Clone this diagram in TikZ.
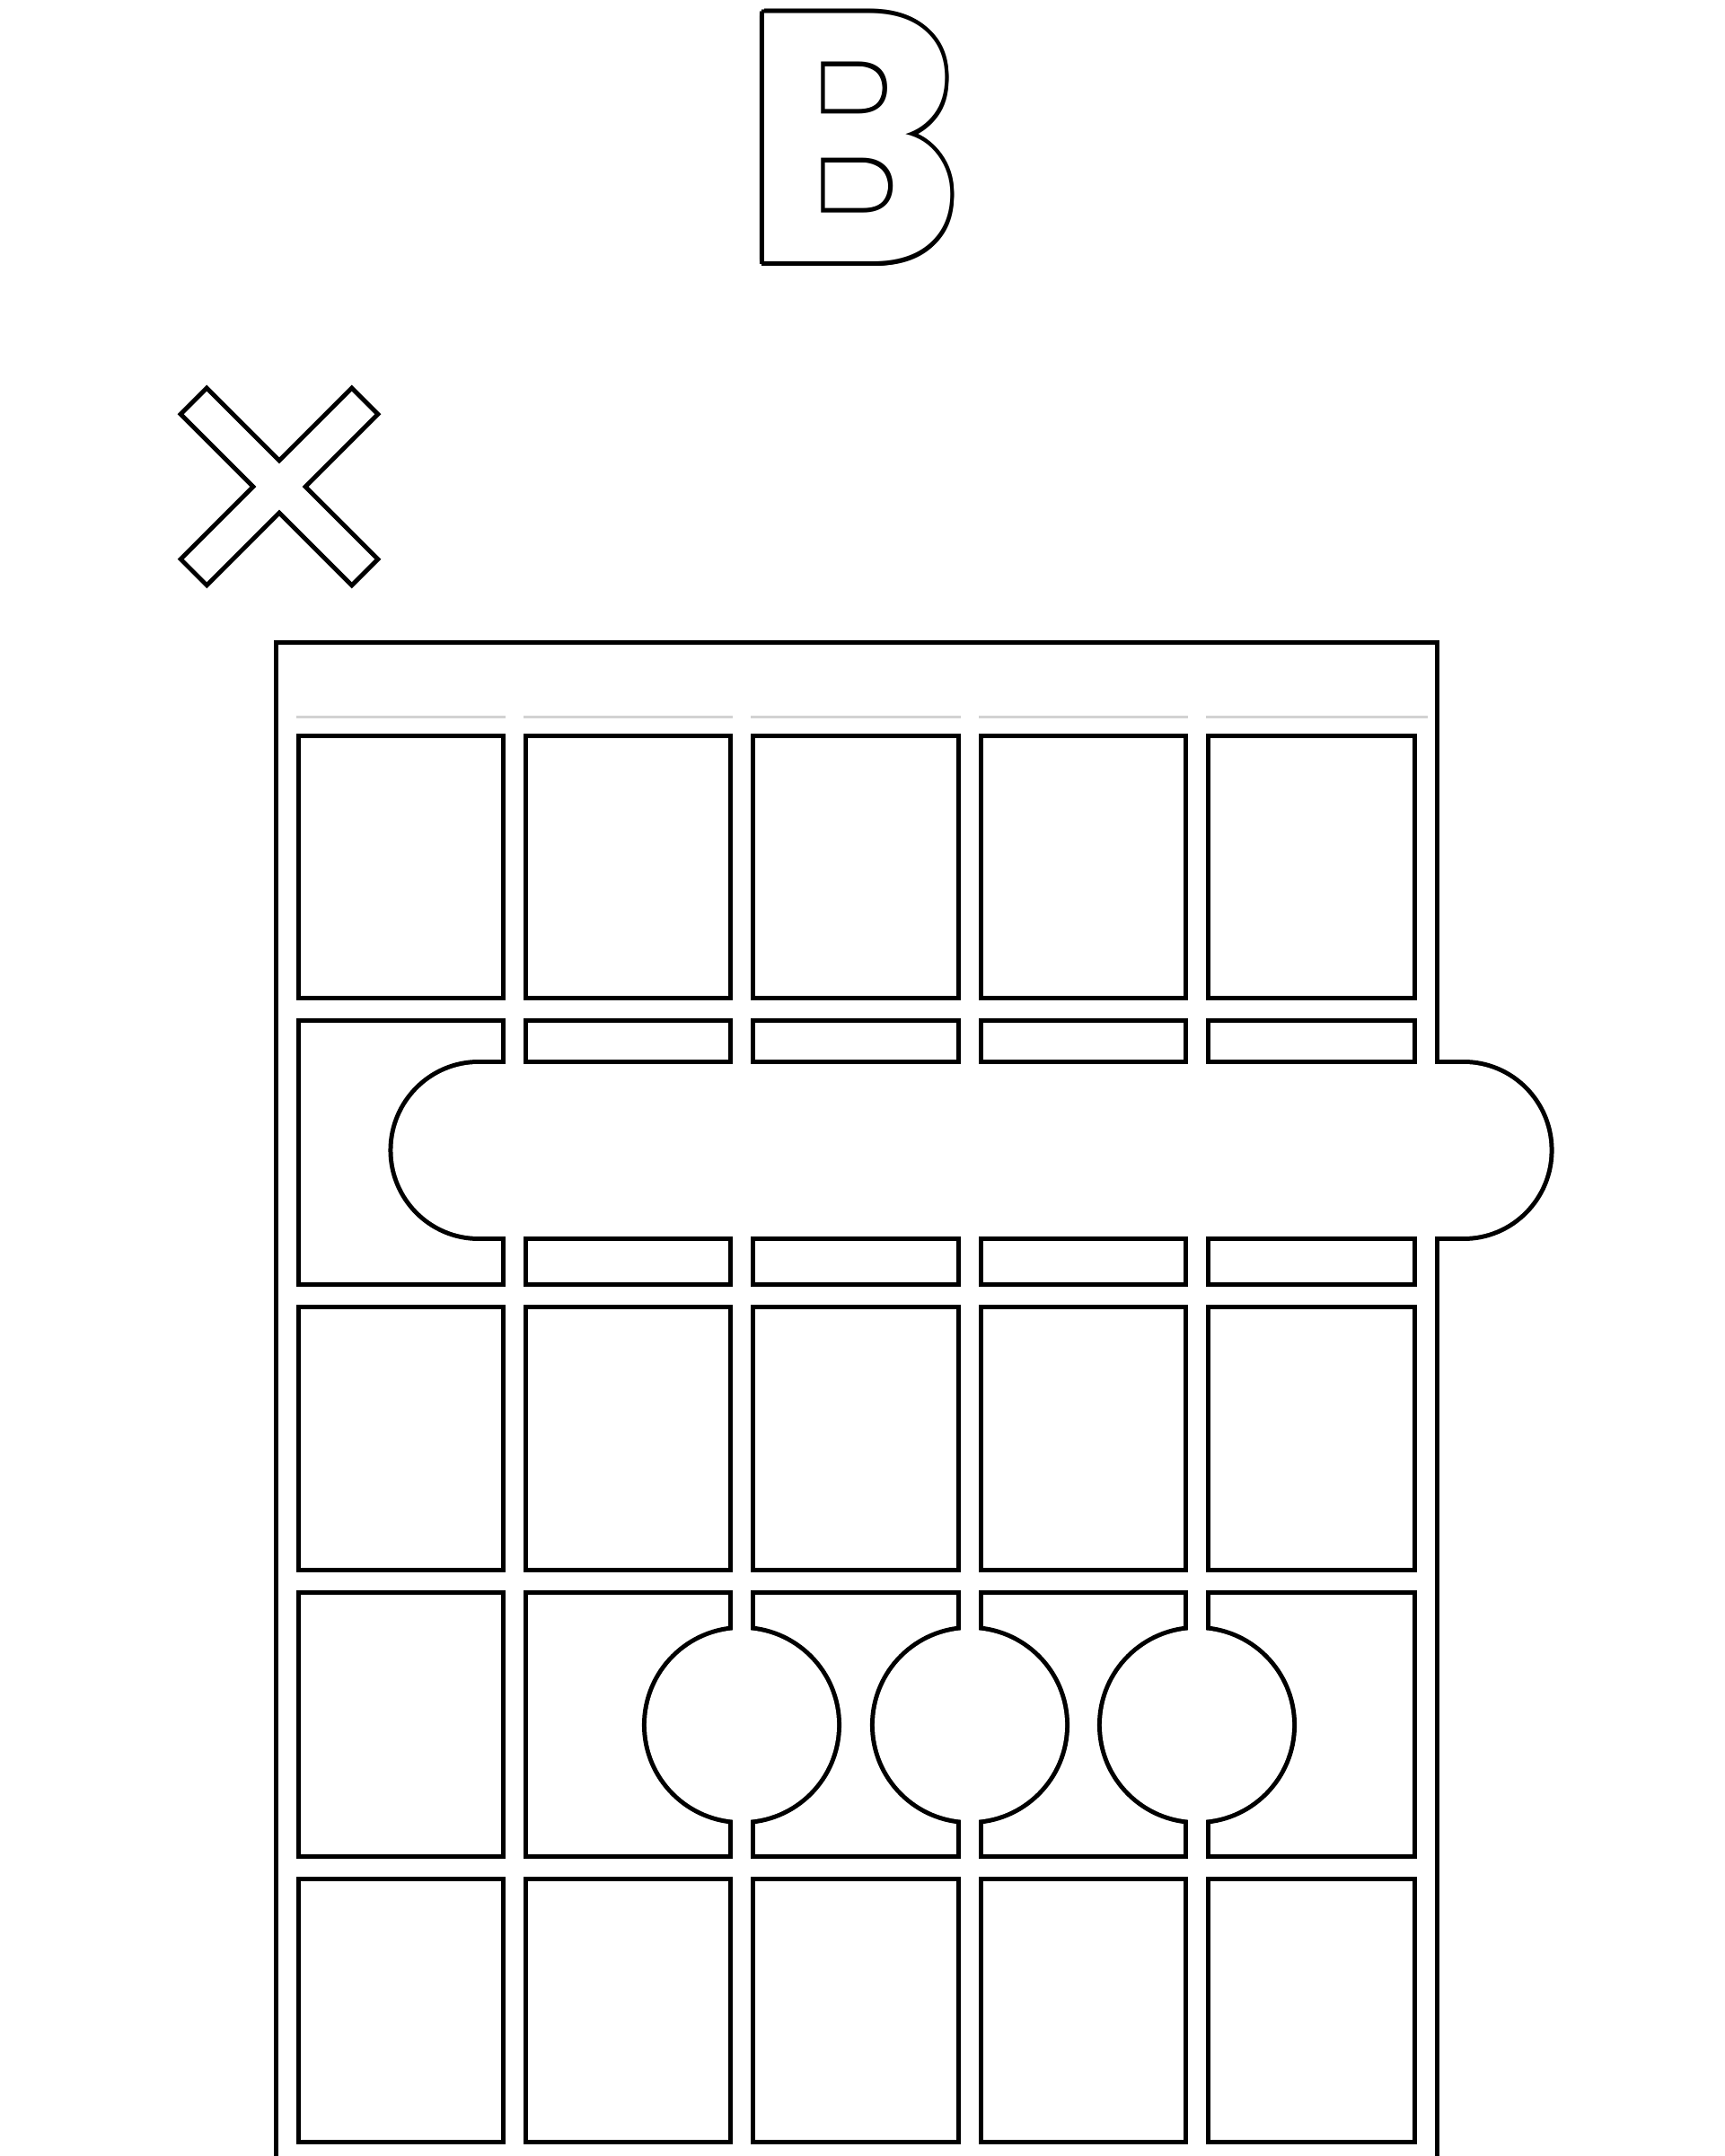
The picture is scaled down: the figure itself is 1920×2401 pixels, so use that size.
\documentclass[tikz,border=0pt]{standalone}
\usepackage{fontspec}
\newfontfamily\chordfont{Poppins}[UprightFont=* Bold]
\begin{document}
\begin{tikzpicture}[x=0.01cm,y=-0.01cm,
        band/.style={black,line width=0.3cm},
        bandw/.style={white,line width=0.2cm},
        bar/.style={black,line cap=round,line width=2.01cm},
        barw/.style={white,line cap=round,line width=1.91cm},
        cross/.style={black,line width=0.46cm},
        crossw/.style={white,line width=0.36cm,shorten <=0.05cm,shorten >=0.05cm},
        chordletter/.style={font=\chordfont\fontsize{112}{120}\selectfont,anchor=base,inner sep=0pt,xscale=0.94}]
    \useasboundingbox (0,0) rectangle (1920,2401);
    \fill[white] (0,0) rectangle (1920,2401);
    \clip (0,0) rectangle (1920,2401);

    % chord name, white with a black rim
    \foreach \a in {0,30,...,330}
        \node[chordletter,text=black,shift={(\a:0.05cm)}] (rim\a) at (950,292) {B};
    \node[chordletter,text=white] (chordname) at (950,292) {B};

    % muted string
    \draw[cross] (214,445) -- (408,639);
    \draw[cross] (408,445) -- (214,639);
    \draw[crossw] (214,445) -- (408,639);
    \draw[crossw] (408,445) -- (214,639);

    % black layer: nut, strings, frets, barre, dots
    \fill (305,713) rectangle (1603,822);
    \draw[band] (320,760) -- (320,2401);
    \draw[band] (573,760) -- (573,2401);
    \draw[band] (826,760) -- (826,2401);
    \draw[band] (1080,760) -- (1080,2401);
    \draw[band] (1333,760) -- (1333,2401);
    \draw[band] (1588,760) -- (1588,2401);
    \draw[band] (320,1124) -- (1588,1124);
    \draw[band] (320,1443) -- (1588,1443);
    \draw[band] (320,1761) -- (1588,1761);
    \draw[band] (320,2080) -- (1588,2080);
    \draw[band] (320,2398) -- (1588,2398);
    \draw[bar] (533,1281) -- (1630,1281);
    \fill (826,1921) circle (1.11cm);
    \fill (1080,1921) circle (1.11cm);
    \fill (1333,1921) circle (1.11cm);

    % white layer on top leaves only the rims
    \fill[white] (310,718) rectangle (1598,817);
    \draw[bandw] (320,760) -- (320,2401);
    \draw[bandw] (573,760) -- (573,2401);
    \draw[bandw] (826,760) -- (826,2401);
    \draw[bandw] (1080,760) -- (1080,2401);
    \draw[bandw] (1333,760) -- (1333,2401);
    \draw[bandw] (1588,760) -- (1588,2401);
    \draw[bandw] (320,1124) -- (1588,1124);
    \draw[bandw] (320,1443) -- (1588,1443);
    \draw[bandw] (320,1761) -- (1588,1761);
    \draw[bandw] (320,2080) -- (1588,2080);
    \draw[bandw] (320,2398) -- (1588,2398);
    \draw[barw] (533,1281) -- (1630,1281);
    \fill[white] (826,1921) circle (1.06cm);
    \fill[white] (1080,1921) circle (1.06cm);
    \fill[white] (1333,1921) circle (1.06cm);

    % faint line under the nut
    \draw[gray!35,line width=0.03cm] (330,798) -- (563,798);
    \draw[gray!35,line width=0.03cm] (583,798) -- (816,798);
    \draw[gray!35,line width=0.03cm] (836,798) -- (1070,798);
    \draw[gray!35,line width=0.03cm] (1090,798) -- (1323,798);
    \draw[gray!35,line width=0.03cm] (1343,798) -- (1590,798);
\end{tikzpicture}
\end{document}
